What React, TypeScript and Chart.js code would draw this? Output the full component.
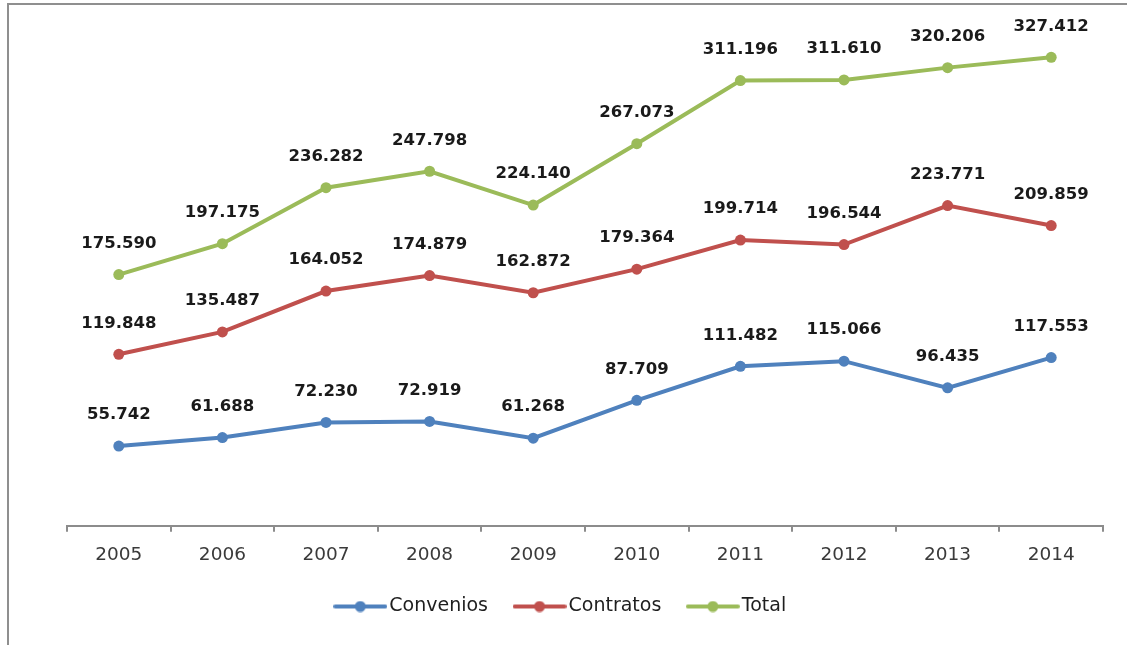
import React, { useEffect, useRef } from "react";
import { Chart, registerables } from "chart.js";

Chart.register(...registerables);

const years = ["2005", "2006", "2007", "2008", "2009", "2010", "2011", "2012", "2013", "2014"];
const convenios = [55.742, 61.688, 72.23, 72.919, 61.268, 87.709, 111.482, 115.066, 96.435, 117.553];
const contratos = [119.848, 135.487, 164.052, 174.879, 162.872, 179.364, 199.714, 196.544, 223.771, 209.859];
const total = [175.59, 197.175, 236.282, 247.798, 224.14, 267.073, 311.196, 311.61, 320.206, 327.412];
const seriesNames = ["Convenios", "Contratos", "Total"];
const seriesColors = ["#4f81bd", "#c0504d", "#9bbb59"];

function legendIcon(color: string) {
  const c = document.createElement("canvas");
  c.width = 54;
  c.height = 12;
  const ctx = c.getContext("2d")!;
  ctx.strokeStyle = color;
  ctx.lineWidth = 4;
  ctx.lineCap = "round";
  ctx.beginPath();
  ctx.moveTo(2, 6);
  ctx.lineTo(52, 6);
  ctx.stroke();
  ctx.fillStyle = color;
  ctx.beginPath();
  ctx.arc(27, 6, 5.5, 0, Math.PI * 2);
  ctx.fill();
  return c;
}

const valueLabels = {
  id: "valueLabels",
  afterDatasetsDraw(chart: any) {
    const ctx = chart.ctx;
    ctx.save();
    ctx.font = "bold 16.5px 'DejaVu Sans'";
    ctx.fillStyle = "#1a1a1a";
    ctx.textAlign = "center";
    ctx.textBaseline = "middle";
    chart.data.datasets.forEach((ds: any, i: number) => {
      const meta = chart.getDatasetMeta(i);
      meta.data.forEach((el: any, j: number) => {
        ctx.fillText(Number(ds.data[j]).toFixed(3), el.x, el.y - 31);
      });
    });
    ctx.restore();
  },
};

export default function App() {
  const ref = useRef<HTMLCanvasElement>(null);
  useEffect(() => {
    const icons = seriesColors.map(legendIcon);
    const data = [convenios, contratos, total];
    const chart = new Chart(ref.current!, {
      type: "line",
      data: {
        labels: years,
        datasets: seriesNames.map((name, i) => ({
          label: name,
          data: data[i],
          borderColor: seriesColors[i],
          backgroundColor: seriesColors[i],
          borderWidth: 4,
          pointRadius: 5.5,
          pointBorderWidth: 0,
          pointBackgroundColor: seriesColors[i],
          tension: 0,
        })),
      },
      options: {
        responsive: false,
        animation: false,
        devicePixelRatio: 1,
        layout: { padding: { left: 24, right: 24, top: 25, bottom: 19 } },
        scales: {
          x: {
            offset: true,
            grid: {
              display: true,
              drawOnChartArea: false,
              drawTicks: true,
              tickLength: 6,
              color: "#8c8c8c",
              lineWidth: 2,
              offset: true,
            },
            border: { display: true, color: "#8c8c8c", width: 2 },
            ticks: {
              color: "#3a3a3a",
              font: { family: "'DejaVu Sans'", size: 18.5 },
              padding: 12,
              maxRotation: 0,
            },
            afterFit: (scale: any) => {
              scale.height = scale.height - 13;
            },
          },
          y: {
            display: true,
            min: 0,
            max: 350,
            grid: { display: false },
            border: { display: false },
            ticks: { display: false },
            afterFit: (scale: any) => {
              scale.width = 43;
            },
          },
        },
        plugins: {
          tooltip: { enabled: false },
          legend: {
            display: true,
            position: "bottom",
            labels: {
              usePointStyle: true,
              pointStyleWidth: 39,
              padding: 32,
              color: "#1e1e1e",
              font: { family: "'DejaVu Sans'", size: 19 },
              generateLabels: (c: any) =>
                (Chart.defaults.plugins.legend.labels as any)
                  .generateLabels(c)
                  .map((l: any, i: number) => ({ ...l, pointStyle: icons[i] })),
            },
          },
        },
      } as any,
      plugins: [valueLabels],
    });
    return () => chart.destroy();
  }, []);

  return (
    <div style={{ position: "fixed", left: 0, top: 0, width: 1127, height: 645, background: "#fff" }}>
      <canvas ref={ref} width={1127} height={645} style={{ position: "absolute", left: 0, top: 0 }} />
      <div style={{ position: "absolute", left: 7, top: 3, width: 2, height: 642, background: "#8f8f8f" }} />
      <div style={{ position: "absolute", left: 7, top: 3, width: 1120, height: 2, background: "#8f8f8f" }} />
    </div>
  );
}
